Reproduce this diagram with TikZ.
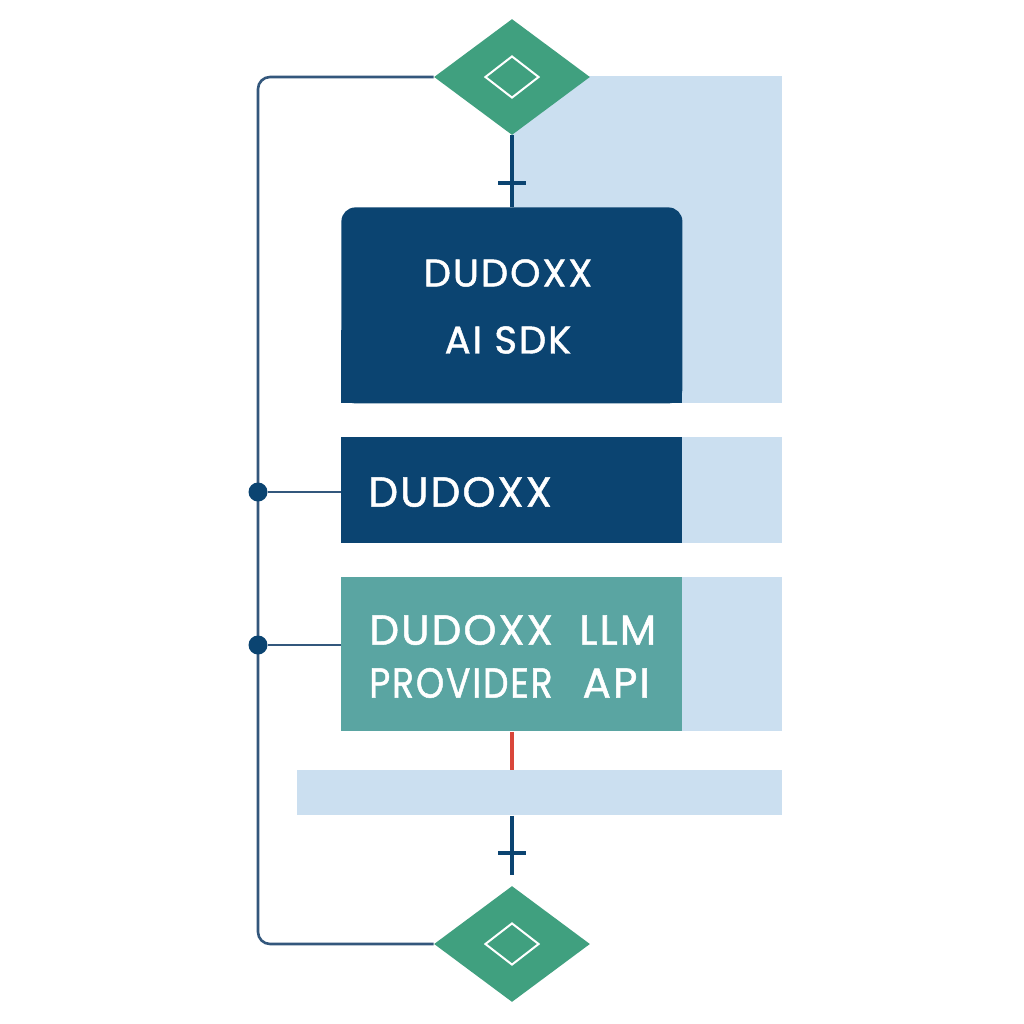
\documentclass[tikz,border=0pt]{standalone}
\usepackage{fontspec}
\usepackage{graphicx}
\setmainfont{Poppins}
\newfontfamily\lblfont{Poppins}[LetterSpace=5, FakeBold=1.2]
\usetikzlibrary{shapes.geometric}
\definecolor{darkblue}{HTML}{0B4471}
\definecolor{tealc}{HTML}{5AA5A2}
\definecolor{greend}{HTML}{40A07F}
\definecolor{lightb}{HTML}{CBDFF0}
\definecolor{linec}{HTML}{33577C}
\definecolor{redl}{HTML}{D9463A}
\tikzset{
  gate/.style={diamond, fill=greend, draw=none, minimum width=78pt, minimum height=58pt, inner sep=0pt},
  gatein/.style={diamond, draw=white, line width=1pt, fill=none, minimum width=27pt, minimum height=21pt, inner sep=0pt},
  conn/.style={draw=linec, line width=1.3pt},
  thick conn/.style={draw=darkblue, line width=1.8pt},
  dot/.style={circle, fill=darkblue, minimum size=9.5pt, inner sep=0pt},
  boxtext/.style={text=white, font=\lblfont\fontsize{21}{25}\selectfont, inner sep=0pt},
  sdktext/.style={text=white, font=\lblfont\fontsize{19.3}{23}\selectfont, inner sep=0pt},
}
\begin{document}
\begin{tikzpicture}[x=0.5pt,y=-0.5pt]
\useasboundingbox (0,0) rectangle (1024,1024);
\fill[white] (0,0) rectangle (1024,1024);
% light blue backgrounds
\node[fill=lightb, inner sep=0pt, minimum width=135pt, minimum height=163.5pt, anchor=north west] (bgtop) at (512,76) {};
\node[fill=lightb, inner sep=0pt, minimum width=50pt, minimum height=53pt, anchor=north west] (bg2) at (682,437) {};
\node[fill=lightb, inner sep=0pt, minimum width=50pt, minimum height=77pt, anchor=north west] (bg3) at (682,577) {};
\node[fill=lightb, inner sep=0pt, minimum width=242.5pt, minimum height=22.5pt, anchor=north west] (bar) at (297,770) {};
% main boxes
\node[fill=darkblue, rounded corners=7pt, inner sep=0pt, minimum width=170.5pt, minimum height=98pt, anchor=north west] (sdk) at (341,207) {};
\fill[darkblue] (341,330) rectangle (682,403);
\node[fill=darkblue, inner sep=0pt, minimum width=170.5pt, minimum height=53pt, anchor=north west] (dud) at (341,437) {};
\node[fill=tealc, inner sep=0pt, minimum width=170.5pt, minimum height=77pt, anchor=north west] (llm) at (341,577) {};
% texts
\node[sdktext] (t1) at (508,273) {DUDOXX};
\node[sdktext] (t2) at (508,340) {AI SDK};
\node[boxtext, anchor=west] (t3) at (368,492) {DUDOXX};
\node[boxtext, anchor=west] (t4) at (369,630) {DUDOXX\ \ LLM};
\node[boxtext, anchor=west] (t5) at (369,683) {\scalebox{0.86}[1]{PROVIDER}\hspace{15pt}API};
% diamonds
\node[gate] (topd) at (512,77) {};
\node[gatein] (topi) at (512,77) {};
\node[gate] (botd) at (512,944) {};
\node[gatein] (boti) at (512,944) {};
% connectors
\coordinate (lt) at (258,77);
\coordinate (lb) at (258,944);
\draw[conn, rounded corners=6pt] (topd.west) -- (lt) -- (lb) -- (botd.west);
\node[dot] (d1) at (258,492) {};
\node[dot] (d2) at (258,645) {};
\draw[conn] (d1) -- (d1 -| dud.west);
\draw[conn] (d2) -- (d2 -| llm.west);
\draw[thick conn] (topd.south) -- (topd.south |- sdk.north);
\coordinate (tk1) at (512,183);
\draw[thick conn] ([xshift=-7pt]tk1) -- ([xshift=7pt]tk1);
\draw[draw=redl, line width=1.6pt] (llm.south -| 512,0) -- (bar.north -| 512,0);
\coordinate (bend) at (512,875);
\draw[thick conn] (bar.south -| 512,0) -- (bend);
\coordinate (tk2) at (512,853);
\draw[thick conn] ([xshift=-7pt]tk2) -- ([xshift=7pt]tk2);
\end{tikzpicture}
\end{document}
